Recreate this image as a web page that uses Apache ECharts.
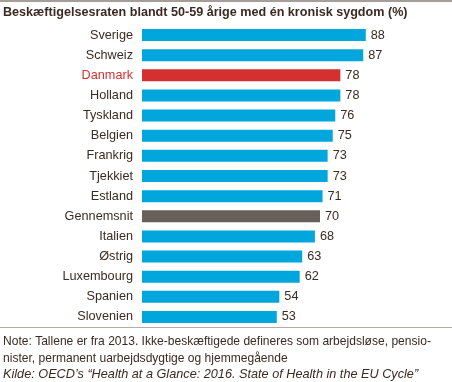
<!DOCTYPE html>
<html><head><meta charset="utf-8">
<script src="https://cdn.jsdelivr.net/npm/echarts@6/dist/echarts.min.js"></script>
<style>html,body{margin:0;padding:0;background:#fff}#c{width:452px;height:382px}</style>
</head><body><div id="c"></div>
<script>
const categories = ["Sverige","Schweiz","Danmark","Holland","Tyskland","Belgien","Frankrig","Tjekkiet","Estland","Gennemsnit","Italien","Østrig","Luxembourg","Spanien","Slovenien"];
const values = [88,87,78,78,76,75,73,73,71,70,68,63,62,54,53];
const highlight = {"Danmark":"#d3302f","Gennemsnit":"#675f5a"};
const titleText = "Beskæftigelsesraten blandt 50-59 årige med én kronisk sygdom (%)";
const noteLines = ["Note: Tallene er fra 2013. Ikke-beskæftigede defineres som arbejdsløse, pensio-","nister, permanent uarbejdsdygtige og hjemmegående"];
const sourceText = "Kilde: OECD’s “Health at a Glance: 2016. State of Health in the EU Cycle”";

const txt = "#3b2a22";
const font = "'Liberation Sans', Arial, sans-serif";
const chart = echarts.init(document.getElementById('c'));
chart.setOption({
  animation:false,
  backgroundColor:'#fff',
  grid:{left:142, top:25, width:254.3, height:302, containLabel:false},
  xAxis:{type:'value', min:0, max:100, show:false},
  yAxis:{type:'category', data:categories, inverse:true,
    axisLine:{show:false}, axisTick:{show:false},
    axisLabel:{color:(v)=> v==="Danmark" ? "#d3302f" : txt, fontFamily:font, fontSize:12.7, margin:9}},
  series:[{type:'bar', barWidth:12,
    data: values.map((v,i)=>({value:v, itemStyle:{color: highlight[categories[i]] || '#00a6dc'}})),
    label:{show:true, position:'right', distance:5, color:txt, fontFamily:font, fontSize:12.7}
  }],
  graphic:[
    {type:'rect', shape:{x:0,y:0,width:452,height:2}, style:{fill:'#a59d97'}},
    {type:'text', x:3, y:13, style:{text:titleText, font:"bold 12.6px "+font, fill:txt, textVerticalAlign:'middle'}},
    {type:'rect', shape:{x:0,y:327,width:452,height:1}, style:{fill:'#b3aba5'}},
    {type:'text', x:3, y:342, style:{text:noteLines[0], font:"12.05px "+font, fill:txt, textVerticalAlign:'middle'}},
    {type:'text', x:3, y:358.5, style:{text:noteLines[1], font:"12.05px "+font, fill:txt, textVerticalAlign:'middle'}},
    {type:'text', x:3, y:374.5, style:{text:sourceText, font:"italic 12.7px "+font, fill:txt, textVerticalAlign:'middle'}}
  ]
});
</script></body></html>
